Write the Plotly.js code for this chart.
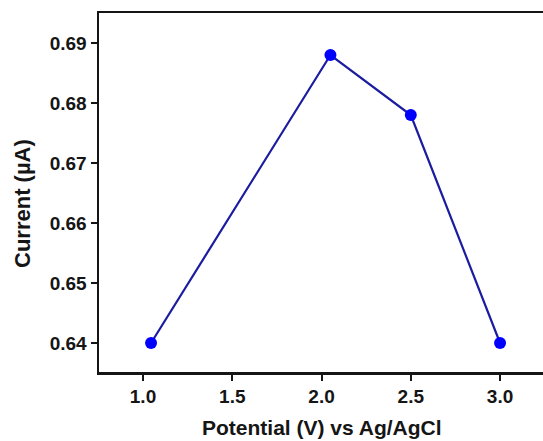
<!DOCTYPE html>
<html>
<head>
<meta charset="utf-8">
<script src="https://cdn.plot.ly/plotly-3.0.1.min.js"></script>
<style>
html,body{margin:0;padding:0;overflow:hidden;background:#fff;}
#chart{width:550px;height:441px;}
</style>
</head>
<body>
<div id="chart"></div>
<script>
const potential = [1.045, 2.05, 2.5, 3.0];
const current = [0.640, 0.688, 0.678, 0.640];
const xTicks = [1.0, 1.5, 2.0, 2.5, 3.0];
const xTickLabels = ["1.0", "1.5", "2.0", "2.5", "3.0"];
const yTicks = [0.64, 0.65, 0.66, 0.67, 0.68, 0.69];
const yTickLabels = ["0.64", "0.65", "0.66", "0.67", "0.68", "0.69"];
const xTitle = 'Potential (V) vs Ag/AgCl';
const yTitle = 'Current (µA)';

const trace = {
  x: potential,
  y: current,
  mode: 'lines+markers',
  line: {color: '#1c1ca0', width: 2.2},
  marker: {color: '#0000ff', size: 12},
  hoverinfo: 'none'
};

const fam = '"Liberation Sans", Arial, sans-serif';
const ink = '#151515';

const layout = {
  width: 550,
  height: 441,
  margin: {l: 99, r: 3, t: 13, b: 69},
  paper_bgcolor: '#fff',
  plot_bgcolor: '#fff',
  showlegend: false,
  font: {family: fam, color: ink},
  xaxis: {
    range: [0.7535, 3.263],
    tickvals: xTicks,
    ticktext: xTickLabels,
    ticks: 'outside',
    ticklen: 6,
    tickwidth: 2,
    tickcolor: ink,
    showline: true,
    linewidth: 2.5,
    linecolor: ink,
    mirror: true,
    showgrid: false,
    zeroline: false,
    tickfont: {family: fam, size: 19, color: ink, weight: 'bold'}
  },
  yaxis: {
    range: [0.63517, 0.695],
    tickvals: yTicks,
    ticktext: yTickLabels,
    ticks: 'outside',
    ticklen: 6,
    tickwidth: 2,
    tickcolor: ink,
    showline: true,
    linewidth: 2.5,
    linecolor: ink,
    mirror: true,
    showgrid: false,
    zeroline: false,
    tickfont: {family: fam, size: 19, color: ink, weight: 'bold'}
  },
  annotations: [
    {text: xTitle, xref: 'paper', yref: 'paper', x: 0.497, y: 0, xanchor: 'center', yanchor: 'middle', yshift: -55, showarrow: false,
     font: {family: fam, size: 21, color: ink, weight: 'bold'}},
    {text: yTitle, xref: 'paper', yref: 'paper', x: 0, y: 0.468, xanchor: 'center', yanchor: 'middle', xshift: -76, textangle: -90, showarrow: false,
     font: {family: fam, size: 22, color: ink, weight: 'bold'}}
  ]
};

Plotly.newPlot('chart', [trace], layout, {displayModeBar: false, staticPlot: true});
</script>
</body>
</html>
